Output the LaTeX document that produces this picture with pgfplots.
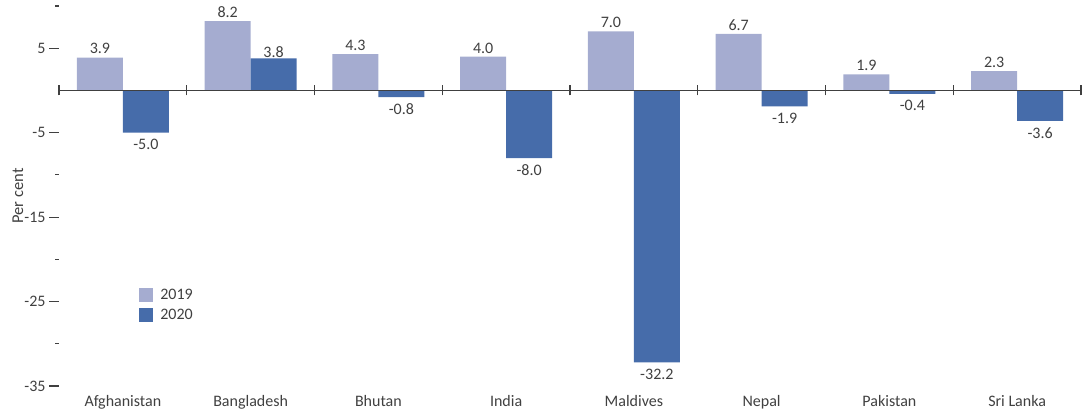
\documentclass[border=0pt]{standalone}
\usepackage{pgfplots}
\pgfplotsset{compat=1.18}
\usepackage{fontspec}
\setmainfont{Carlito}
\definecolor{c19}{RGB}{165,172,208}
\definecolor{c20}{RGB}{70,108,170}
\definecolor{txt}{RGB}{64,64,64}
\begin{document}
\begin{tikzpicture}
\begin{axis}[
  name=ax,
  scale only axis, width=1022bp, height=380bp,
  xmin=-0.5, xmax=7.5, ymin=-35, ymax=10,
  clip=false,
  axis lines*=left,
  axis line style={draw=none},
  font=\fontsize{16bp}{19bp}\selectfont,
  tick label style={text=txt},
  xtick={0,...,7},
  xticklabels={Afghanistan,Bangladesh,Bhutan,India,Maldives,Nepal,Pakistan,Sri Lanka},
  x tick style={draw=none},
  xticklabel style={anchor=base, yshift=-10bp},
  ytick={-35,-25,-15,-5,5},
  yticklabels={-35,-25,-15,-5,5},
  extra y ticks={-30,-20,-10,10},
  extra y tick labels={},
  extra y tick style={major tick length=4bp},
  tick align=outside,
  major tick length=10bp,
  y tick style={txt, line width=1.2bp},
  every axis y label/.style={at={(rel axis cs:0,0.5)}, rotate=90, anchor=center, yshift=41bp, text=txt, font=\fontsize{16.5bp}{19bp}\selectfont},
  ylabel={Per cent},
  nodes near coords={\pgfmathprintnumber[fixed,fixed zerofill,precision=1,assume math mode=true]{\pgfplotspointmeta}},
  nodes near coords style={text=txt, font=\fontsize{16bp}{19bp}\selectfont},
  legend style={at={(rel axis cs:0.0755,0.266)}, anchor=north west, draw=none, fill=none, font=\fontsize{16bp}{19bp}\selectfont, text=txt, row sep=4bp},
  legend cell align=left,
  legend image code/.code={\fill[#1] (0bp,-7bp) rectangle (14bp,7bp); \path (19bp,0bp);},
]
\addplot[ybar, bar width=0.36, bar shift=0, fill=c19, draw=none]
  coordinates {(-0.18,3.9)(0.82,8.2)(1.82,4.3)(2.82,4.0)(3.82,7.0)(4.82,6.7)(5.82,1.9)(6.82,2.3)};
\addlegendentry{2019}
\addplot[ybar, bar width=0.36, bar shift=0, fill=c20, draw=none,
  every node near coord/.append style={yshift=-3bp}]
  coordinates {(0.18,-5.0)(1.18,3.8)(2.18,-0.8)(3.18,-8.0)(4.18,-32.2)(5.18,-1.9)(6.18,-0.4)(7.18,-3.6)};
\addlegendentry{2020}
\draw[txt, line width=1.3bp] (axis cs:-0.5,0) -- (axis cs:7.5,0);
\pgfplotsinvokeforeach{-0.5,0.5,1.5,2.5,3.5,4.5,5.5,6.5,7.5}{
  \draw[txt, line width=1.2bp] ([yshift=-5bp]axis cs:#1,0) -- ([yshift=5bp]axis cs:#1,0);
}
\end{axis}
\pgfresetboundingbox
\path ([shift={(-59bp,-27bp)}]ax.south west) rectangle ([shift={(7bp,6bp)}]ax.north east);
\end{tikzpicture}
\end{document}
